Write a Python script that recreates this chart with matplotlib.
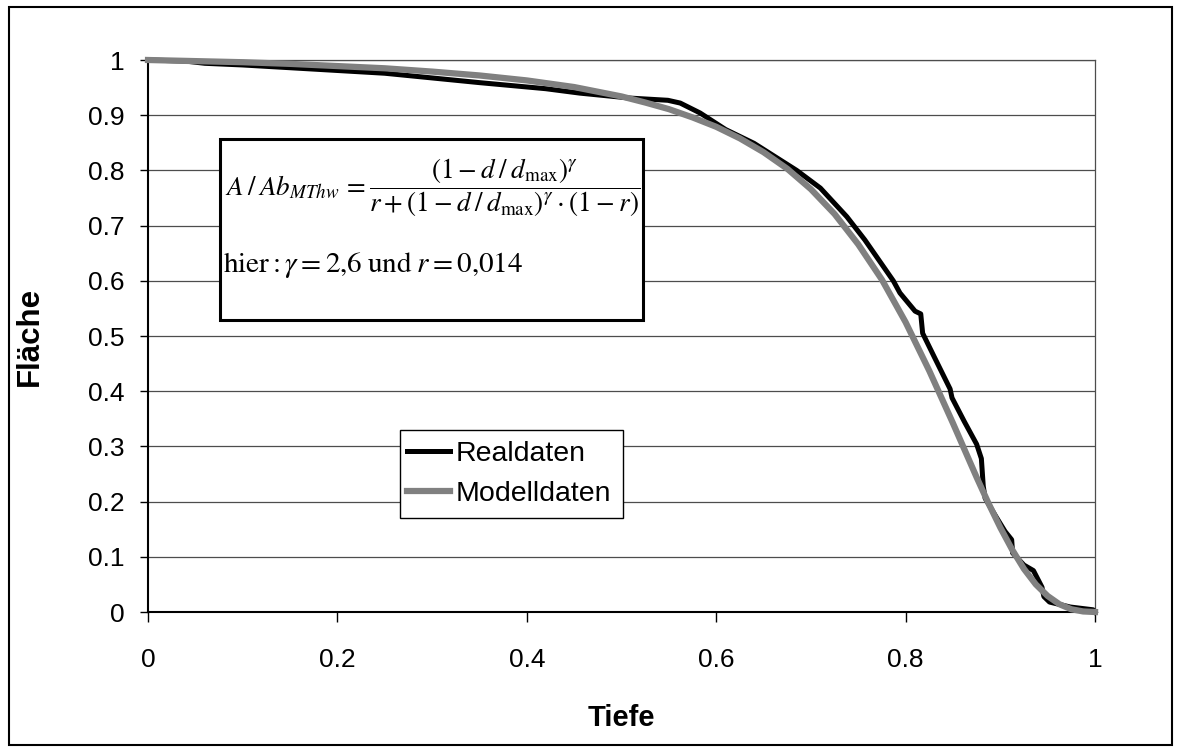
import matplotlib.pyplot as plt
from matplotlib.patches import Rectangle

plt.rcParams['font.family'] = ['Liberation Sans', 'DejaVu Sans']
plt.rcParams['mathtext.fontset'] = 'stix'

# Realdaten
real_tiefe = [0.000, 0.040, 0.060, 0.100, 0.170, 0.250, 0.350, 0.420, 0.456, 0.509,
              0.549, 0.562, 0.583, 0.610, 0.640, 0.685, 0.710, 0.738, 0.757, 0.787,
              0.794, 0.810, 0.816, 0.818, 0.830, 0.847, 0.849, 0.862, 0.875, 0.880,
              0.882, 0.884, 0.895, 0.905, 0.912, 0.913, 0.925, 0.935, 0.944, 0.946,
              0.952, 0.974, 0.998, 1.000]
real_flaeche = [1.000, 0.998, 0.994, 0.991, 0.984, 0.976, 0.959, 0.948, 0.940, 0.931,
                0.927, 0.922, 0.904, 0.874, 0.849, 0.800, 0.768, 0.716, 0.674, 0.600,
                0.578, 0.545, 0.540, 0.505, 0.463, 0.404, 0.388, 0.345, 0.304, 0.278,
                0.228, 0.206, 0.174, 0.146, 0.131, 0.107, 0.085, 0.075, 0.045, 0.028,
                0.018, 0.009, 0.004, 0.000]

# Modelldaten
model_tiefe = [0.000, 0.050, 0.100, 0.150, 0.200, 0.250, 0.300, 0.350, 0.400, 0.450,
               0.500, 0.525, 0.550, 0.575, 0.600, 0.625, 0.650, 0.675, 0.700, 0.725,
               0.750, 0.775, 0.800, 0.825, 0.850, 0.875, 0.8875, 0.900, 0.9125, 0.925,
               0.9375, 0.950, 0.9625, 0.975, 0.9875, 1.000]
model_flaeche = [1.000, 0.998, 0.996, 0.993, 0.989, 0.985, 0.979, 0.972, 0.963, 0.951,
                 0.934, 0.923, 0.911, 0.896, 0.879, 0.858, 0.833, 0.803, 0.766, 0.721,
                 0.666, 0.602, 0.525, 0.437, 0.342, 0.244, 0.197, 0.153, 0.113, 0.078,
                 0.050, 0.029, 0.014, 0.005, 0.001, 0.000]

x_ticks = [0, 0.2, 0.4, 0.6, 0.8, 1]
x_tick_labels = ["0", "0.2", "0.4", "0.6", "0.8", "1"]
y_ticks = [0, 0.1, 0.2, 0.3, 0.4, 0.5, 0.6, 0.7, 0.8, 0.9, 1]
y_tick_labels = ["0", "0.1", "0.2", "0.3", "0.4", "0.5", "0.6", "0.7", "0.8", "0.9", "1"]

W, H = 1181, 753
fig = plt.figure(figsize=(W / 100, H / 100), dpi=100)
ax = fig.add_axes([148 / W, 1 - 612 / H, (1095 - 148) / W, (612 - 60) / H])

ax.plot(real_tiefe, real_flaeche, color="black", lw=3.6, label="Realdaten",
        solid_joinstyle="round", clip_on=False, zorder=3)
ax.plot(model_tiefe, model_flaeche, color="#808080", lw=4.5, label="Modelldaten",
        solid_joinstyle="round", clip_on=False, zorder=4)

ax.set_xlim(0, 1)
ax.set_ylim(0, 1)
ax.set_xticks(x_ticks, x_tick_labels, fontsize=19)
ax.set_yticks(y_ticks, y_tick_labels, fontsize=19)
ax.tick_params(axis="x", direction="out", length=7, width=1, pad=19)
ax.tick_params(axis="y", direction="out", length=6, width=1, pad=11)
ax.yaxis.grid(True, color="#4d4d4d", lw=0.9)
ax.set_axisbelow(True)
for side in ["left", "bottom"]:
    ax.spines[side].set_linewidth(1.5)
for side in ["top", "right"]:
    ax.spines[side].set_linewidth(0.9)
    ax.spines[side].set_color("#4d4d4d")

ax.set_xlabel("Tiefe", fontsize=21, fontweight="bold")
ax.set_ylabel("Fläche", fontsize=22.5, fontweight="bold")
ax.xaxis.set_label_coords(0.5, (612 - 704) / 552)
ax.yaxis.set_label_coords((45 - 148) / 947, 0.5)

# legend: Excel-like frame drawn by hand, entries by matplotlib
ax.add_patch(Rectangle((400 / W, 1 - 518 / H), (623 - 400) / W, (518 - 430) / H,
                       transform=fig.transFigure, facecolor="white", edgecolor="black",
                       lw=1, clip_on=False, zorder=4.5))
ax.legend(loc="center left", bbox_to_anchor=(407 / W, 1 - 474 / H),
          bbox_transform=fig.transFigure, fontsize=20.5, frameon=False,
          handlelength=1.5, handletextpad=0.2, labelspacing=0.5,
          borderpad=0, borderaxespad=0)

# formula box
ax.add_patch(Rectangle((220 / W, 1 - 320 / H), (643 - 220) / W, (320 - 139) / H,
                       transform=fig.transFigure, facecolor="white", edgecolor="black",
                       lw=2.2, clip_on=False, zorder=5))
lhs = r"$A\:/\:Ab_{MThw}\,=$"
frac = (r"$\dfrac{(1\:{-}\:d\:/\:d_{\mathrm{max}})^{\gamma}}"
        r"{r\:{+}\:(1\:{-}\:d\:/\:d_{\mathrm{max}})^{\gamma}\:{\cdot}\:(1\:{-}\:r)}$")
fig.text(366 / W, 1 - 195 / H, lhs, fontsize=19.5, ha="right", va="baseline", zorder=6)
fig.text(505 / W, 1 - 188 / H, frac, fontsize=19.5, ha="center", va="center", zorder=6)
fig.text(223 / W, 1 - 265 / H, r"$\mathrm{hier}:\gamma=2{,}6\;\mathrm{und}\;r=0{,}014$",
         fontsize=21, ha="left", va="center", zorder=6)

# outer frame
fig.add_artist(Rectangle((9 / W, 8 / H), (1172 - 9) / W, (746 - 8) / H,
                         transform=fig.transFigure, fill=False, edgecolor="black", lw=1.5))

plt.savefig("out.png", dpi=100)
